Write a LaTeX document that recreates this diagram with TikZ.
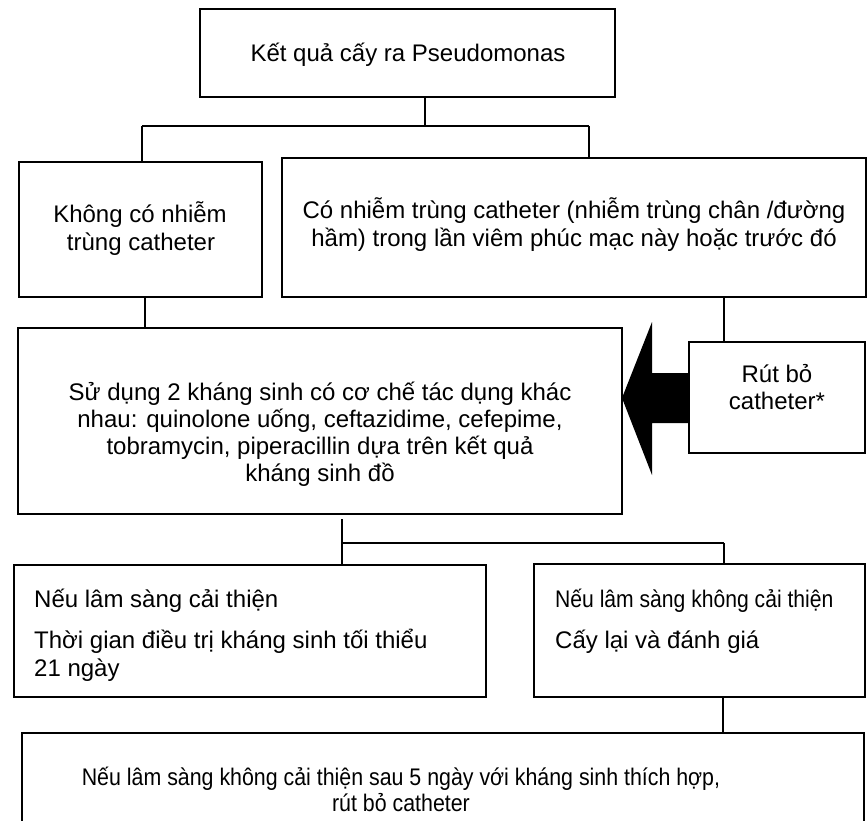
\documentclass[tikz,border=0pt]{standalone}
\usepackage{fontspec}
\setmainfont{Liberation Sans}
\usetikzlibrary{fit}
\newcommand{\fs}{\fontsize{24}{27}\selectfont}
\tikzset{
  box/.style={draw=black, line width=1.8pt, inner sep=0pt, outer sep=0pt},
  link/.style={draw=black, line width=1.3pt},
  txt/.style={inner sep=0pt, anchor=base, font=\fs},
  ltxt/.style={inner sep=0pt, anchor=base west, font=\fs},
}
\begin{document}
\begin{tikzpicture}[x=1pt,y=-1pt]
\useasboundingbox (0,0) rectangle (868,821);

% boxes
\node[box, fit={(200,9) (615,97)}]   (top)    {};
\node[box, fit={(19,162) (262,297)}] (nocat)  {};
\node[box, fit={(282,158) (866,297)}] (cat)   {};
\node[box, fit={(18,328) (622,514)}] (abx)    {};
\node[box, fit={(689,342) (865,453)}] (pull)  {};
\node[box, fit={(14,565) (486,697)}] (better) {};
\node[box, fit={(534,564) (865,697)}] (worse) {};
\node[box, fit={(22,733) (864,830)}] (late)   {};

% texts
\node[txt] (t1) at (408,62) {Kết quả cấy ra Pseudomonas};

\node[txt] (t2a) at (140,223) {Không có nhiễm};
\node[txt] (t2b) at (141,251) {trùng catheter};

\node[txt] (t3a) at (574,219) {Có nhiễm trùng catheter (nhiễm trùng chân /đường};
\node[txt] (t3b) at (574,247) {hầm) trong lần viêm phúc mạc này hoặc trước đó};

\node[txt] (t4a) at (320,400) {Sử dụng 2 kháng sinh có cơ chế tác dụng khác};
\node[txt] (t4b) at (320,427) {nhau: quinolone uống, ceftazidime, cefepime,};
\node[txt] (t4c) at (320,454) {tobramycin, piperacillin dựa trên kết quả};
\node[txt] (t4d) at (320,481) {kháng sinh đồ};

\node[txt] (t5a) at (777,382) {Rút bỏ};
\node[txt] (t5b) at (777,409) {catheter*};

\node[ltxt] (t6a) at (34,607) {Nếu lâm sàng cải thiện};
\node[ltxt] (t6b) at (34,648) {Thời gian điều trị kháng sinh tối thiểu};
\node[ltxt] (t6c) at (34,676) {21 ngày};

\node[ltxt] (t7a) at (555,607) {\scalebox{0.88}[1]{Nếu lâm sàng không cải thiện}};
\node[ltxt] (t7b) at (555,648) {Cấy lại và đánh giá};

\node[txt] (t8a) at (401,785) {\scalebox{0.89}[1]{Nếu lâm sàng không cải thiện sau 5 ngày với kháng sinh thích hợp,}};
\node[txt] (t8b) at (401,811) {\scalebox{0.89}[1]{rút bỏ catheter}};

% junction points
\coordinate (j0) at (425,126);
\coordinate (jL) at (142,126);
\coordinate (jR) at (589,126);
\coordinate (xL) at (145,0);
\coordinate (xR) at (724,0);
\coordinate (s0) at (342,519);
\coordinate (j2) at (342,543);
\coordinate (j3) at (724,543);
\coordinate (xB) at (723,0);

% connectors
\draw[link] (top.south -| j0) -- (j0);
\draw[link] (jL) -- (jR);
\draw[link] (jL) -- (jL |- nocat.north);
\draw[link] (jR) -- (jR |- cat.north);
\draw[link] (nocat.south -| xL) -- (abx.north -| xL);
\draw[link] (cat.south -| xR) -- (pull.north -| xR);
\draw[link] (s0) -- (s0 |- better.north);
\draw[link] (j2) -- (j3);
\draw[link] (j3) -- (j3 |- worse.north);
\draw[link] (worse.south -| xB) -- (late.north -| xB);

% block arrow from the catheter removal box to the treatment box
\fill[black] (abx.east |- 0,398) -- (652,322) -- (652,373)
  -- (pull.west |- 0,373) -- (pull.west |- 0,423)
  -- (652,423) -- (652,475) -- cycle;
\end{tikzpicture}
\end{document}
